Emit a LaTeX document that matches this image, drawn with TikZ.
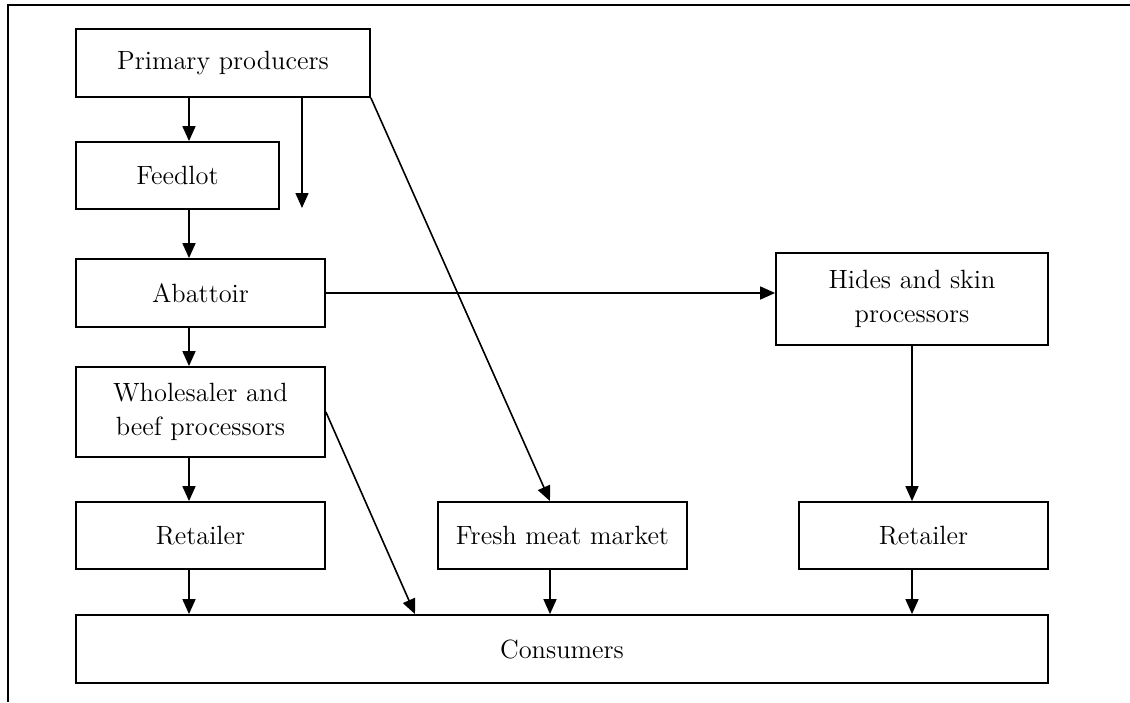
\documentclass[tikz,border=0pt]{standalone}
\usepackage{tikz}
\usetikzlibrary{arrows.meta}
\usetikzlibrary{positioning}

\tikzset{
  stage/.style={draw, line width=0.9pt, align=center, inner sep=0pt,
    font=\fontsize{13.2}{17}\selectfont},
  flow/.style={-{Triangle[width=6.5pt,length=7.5pt]}, line width=0.8pt},
}

\begin{document}
\begin{tikzpicture}[x=0.5pt, y=-0.5pt]
      \useasboundingbox (0,0) rectangle (1130,702);
      \draw[line width=0.9pt] (1130,5) -- (8,5) -- (8,702);

      % left column
      \node[stage, minimum width=147pt, minimum height=34pt] (prim) at (223,63) {Primary producers};
      \node[stage, minimum width=101.5pt, minimum height=33.5pt] (feed) at (177.5,175.5) {Feedlot};
      \node[stage, minimum width=124.5pt, minimum height=34pt] (abat) at (200.5,293) {Abattoir};
      \node[stage, minimum width=124.5pt, minimum height=45pt] (whole) at (200.5,412) {Wholesaler and\\beef processors};
      \node[stage, minimum width=124.5pt, minimum height=33.5pt] (ret1) at (200.5,535.5) {Retailer};

      % middle and right
      \node[stage, minimum width=124.5pt, minimum height=33.5pt] (fresh) at (562.5,535.5) {Fresh meat market};
      \node[stage, minimum width=136pt, minimum height=46pt] (hides) at (912,299) {Hides and skin\\processors};
      \node[stage, minimum width=124.5pt, minimum height=33.5pt] (ret2) at (923.5,535.5) {Retailer};
      \node[stage, minimum width=486pt, minimum height=34pt] (cons) at (562,649) {Consumers};

      \coordinate (axis) at (189,0);
      \coordinate (spare) at (302,208);
      \coordinate (mkt) at (550,0);
      \coordinate (drop) at (415,0);

      \draw[flow] (prim.south -| axis) -- (feed.north -| axis);
      \draw[flow] (feed.south -| axis) -- (abat.north -| axis);
      \draw[flow] (abat.south -| axis) -- (whole.north -| axis);
      \draw[flow] (whole.south -| axis) -- (ret1.north -| axis);
      \draw[flow] (ret1.south -| axis) -- (cons.north -| axis);
      \draw[flow] (prim.south -| spare) -- (spare);

      \draw[flow] (abat.east) -- (abat.east -| hides.west);
      \draw[flow] (prim.south east) -- (fresh.north -| mkt);
      \draw[flow] (fresh.south -| mkt) -- (cons.north -| mkt);
      \draw[flow] (whole.east) -- (cons.north -| drop);

      \draw[flow] (hides.south) -- (ret2.north -| hides.south);
      \draw[flow] (ret2.south -| hides.south) -- (cons.north -| hides.south);

\end{tikzpicture}
\end{document}
